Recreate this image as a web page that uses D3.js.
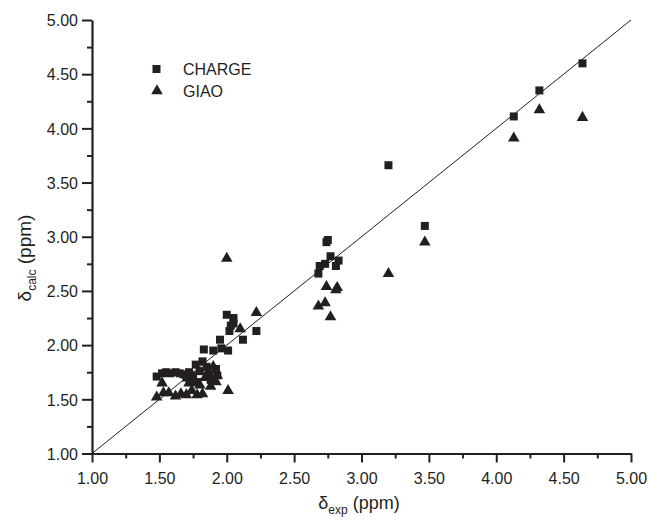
<!DOCTYPE html>
<html>
<head>
<meta charset="utf-8">
<script src="https://cdn.jsdelivr.net/npm/d3@7"></script>
<style>
  body { margin: 0; background: #fff; }
  svg text { font-family: "Liberation Sans", Arial, sans-serif; fill: #231f20; }
</style>
</head>
<body>
<svg id="chart" width="648" height="522"></svg>
<script>
// tick values for both axes
var tickValues = [1.0, 1.5, 2.0, 2.5, 3.0, 3.5, 4.0, 4.5, 5.0];
var minorTicks = [1.25, 1.75, 2.25, 2.75, 3.25, 3.75, 4.25, 4.75];

// CHARGE results [exp, calc]
var chargeExp  = [1.48,1.52,1.55,1.58,1.62,1.65,1.68,1.70,1.72,1.73,1.75,1.77,1.78,1.80,1.82,1.83,1.85,1.87,1.88,1.90,1.92,1.93,1.95,1.96,2.00,2.01,2.02,2.03,2.05,2.05,2.12,2.22,
                  2.68,2.69,2.73,2.74,2.75,2.77,2.81,2.83,3.20,3.47,4.13,4.32,4.64];
var chargeCalc = [1.71,1.74,1.75,1.74,1.75,1.74,1.73,1.70,1.75,1.68,1.72,1.82,1.66,1.76,1.85,1.96,1.80,1.73,1.68,1.95,1.78,1.72,2.05,1.97,2.28,1.95,2.13,2.18,2.25,2.20,2.05,2.13,
                  2.66,2.73,2.75,2.95,2.97,2.82,2.73,2.78,3.66,3.10,4.11,4.35,4.60];

// GIAO results [exp, calc]
var giaoExp  = [1.48,1.52,1.53,1.57,1.62,1.66,1.70,1.72,1.74,1.75,1.78,1.80,1.82,1.84,1.86,1.88,1.90,1.92,1.93,2.01,2.00,2.10,2.22,
                2.68,2.73,2.74,2.77,2.81,2.82,3.20,3.47,4.13,4.32,4.64];
var giaoCalc = [1.52,1.65,1.56,1.56,1.53,1.55,1.54,1.65,1.58,1.68,1.54,1.63,1.55,1.70,1.75,1.62,1.80,1.66,1.72,1.58,2.80,2.15,2.30,
                2.36,2.39,2.54,2.26,2.51,2.53,2.66,2.95,3.91,4.17,4.10];

var svg = d3.select("#chart");
var plotL = 92, plotR = 631, plotT = 20, plotB = 453.5;

var x = d3.scaleLinear().domain([1, 5]).range([plotL, plotR]);
var y = d3.scaleLinear().domain([1, 5]).range([plotB, plotT]);

// diagonal y = x
svg.append("line")
    .attr("x1", x(1)).attr("y1", y(1))
    .attr("x2", x(5)).attr("y2", y(5))
    .attr("stroke", "#231f20")
    .attr("stroke-width", 1);

// axes
var xAxis = svg.append("g")
    .attr("transform", "translate(0," + plotB + ")")
    .call(d3.axisBottom(x).tickValues(tickValues).tickFormat(d3.format(".2f")).tickSize(9).tickSizeOuter(0));
var yAxis = svg.append("g")
    .attr("transform", "translate(" + plotL + ",0)")
    .call(d3.axisLeft(y).tickValues(tickValues).tickFormat(d3.format(".2f")).tickSize(10).tickSizeOuter(0));

svg.append("g")
    .attr("transform", "translate(0," + plotB + ")")
    .call(d3.axisBottom(x).tickValues(minorTicks).tickFormat("").tickSize(5).tickSizeOuter(0))
    .select(".domain").remove();
svg.append("g")
    .attr("transform", "translate(" + plotL + ",0)")
    .call(d3.axisLeft(y).tickValues(minorTicks).tickFormat("").tickSize(5).tickSizeOuter(0))
    .select(".domain").remove();

svg.selectAll(".domain").attr("stroke", "#231f20").attr("stroke-width", 2.2);
svg.selectAll(".tick line").attr("stroke", "#231f20").attr("stroke-width", 2);
xAxis.selectAll("text").attr("font-size", 16).attr("dy", "1.15em");
yAxis.selectAll("text").attr("font-size", 16).attr("x", -14).attr("dy", "0.36em");
svg.selectAll(".tick text").style("font-family", "'Liberation Sans', Arial, sans-serif").attr("fill", "#231f20");

// markers
var sq = 8;
svg.append("g").selectAll("rect")
    .data(d3.range(chargeExp.length))
    .join("rect")
    .attr("x", function(i) { return x(chargeExp[i]) - sq / 2; })
    .attr("y", function(i) { return y(chargeCalc[i]) - sq / 2; })
    .attr("width", sq).attr("height", sq)
    .attr("fill", "#231f20");

var tri = d3.symbol().type(d3.symbolTriangle).size(58);
svg.append("g").selectAll("path")
    .data(d3.range(giaoExp.length))
    .join("path")
    .attr("d", tri)
    .attr("transform", function(i) { return "translate(" + x(giaoExp[i]) + "," + y(giaoCalc[i]) + ")"; })
    .attr("fill", "#231f20");

// legend
var legend = svg.append("g");
legend.append("rect").attr("x", 152.5).attr("y", 65).attr("width", sq).attr("height", sq).attr("fill", "#231f20");
legend.append("path").attr("d", tri).attr("transform", "translate(157,91)").attr("fill", "#231f20");
legend.append("text").attr("x", 183).attr("y", 75).attr("font-size", 16).text("CHARGE");
legend.append("text").attr("x", 183).attr("y", 97).attr("font-size", 16).text("GIAO");

// axis titles
var xt = svg.append("text").attr("x", 359).attr("y", 509).attr("text-anchor", "middle").attr("font-size", 18);
xt.append("tspan").text("δ");
xt.append("tspan").attr("font-size", 12).attr("dy", 5).text("exp");
xt.append("tspan").attr("dy", -5).text(" (ppm)");

var yt = svg.append("text")
    .attr("transform", "translate(31,258) rotate(-90)")
    .attr("text-anchor", "middle").attr("font-size", 19);
yt.append("tspan").text("δ");
yt.append("tspan").attr("font-size", 12).attr("dy", 5).text("calc");
yt.append("tspan").attr("dy", -5).text(" (ppm)");
</script>
</body>
</html>
